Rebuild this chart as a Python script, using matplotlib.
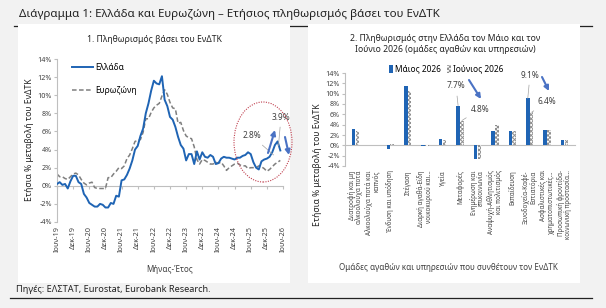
import matplotlib
matplotlib.use('Agg')
import matplotlib.pyplot as plt
from matplotlib.patches import Rectangle, Ellipse, Patch, FancyArrowPatch
from matplotlib.lines import Line2D

plt.rcParams['font.family'] = ['Noto Sans', 'DejaVu Sans']
plt.rcParams['hatch.linewidth'] = 0.7

# ---- data: left chart (monthly, Ιουν-19 .. Μάι-26)
greece = [0.2, 0.4, 0.1, 0.2, -0.3, 0.5, 1.1,
          1.1, 0.4, 0.2, -0.9, -1.3, -1.9, -2.1, -2.3, -2.3, -2.0, -2.1, -2.4,
          -2.4, -1.9, -2.0, -1.1, -1.2, 0.6, 0.7, 1.2, 1.9, 2.8, 4.0, 4.4,
          5.5, 6.3, 8.0, 9.1, 10.5, 11.6, 11.3, 11.2, 12.1, 9.5, 8.8, 7.6,
          7.3, 6.5, 5.4, 4.5, 4.1, 2.8, 3.5, 3.5, 2.4, 3.8, 2.9, 3.7,
          3.2, 3.1, 3.4, 3.2, 2.4, 2.5, 3.0, 3.2, 3.1, 3.1, 3.0, 2.9,
          3.1, 3.1, 3.3, 3.4, 3.7,
          3.5, 2.6, 2.0, 1.8, 2.7, 2.9, 3.0, 3.2, 3.7, 4.5, 4.9, 3.9]
eurozone = [1.3, 1.0, 1.0, 0.8, 0.7, 1.0, 1.3,
            1.4, 1.2, 0.7, 0.3, 0.1, 0.3, 0.4, -0.2, -0.3, -0.3, -0.3, -0.3,
            0.9, 0.9, 1.3, 1.6, 2.0, 1.9, 2.2, 3.0, 3.4, 4.1, 4.9, 5.0,
            5.1, 5.9, 7.4, 7.4, 8.1, 8.6, 8.9, 9.1, 9.9, 10.6, 10.1, 9.2,
            8.6, 8.5, 6.9, 7.0, 6.1, 5.5, 5.3, 5.2, 4.3, 2.9, 2.4, 2.9,
            2.8, 2.6, 2.4, 2.4, 2.6, 2.5, 2.6, 2.2, 1.7, 2.0, 2.2, 2.4,
            2.5, 2.3, 2.2, 2.2, 1.9,
            2.0, 2.0, 2.0, 2.2, 2.1, 1.9, 1.6, 1.8, 2.1, 2.4, 2.6, 2.8]
month_ticks = ['Ιουν-19', 'Δεκ-19', 'Ιουν-20', 'Δεκ-20', 'Ιουν-21', 'Δεκ-21', 'Ιουν-22',
               'Δεκ-22', 'Ιουν-23', 'Δεκ-23', 'Ιουν-24', 'Δεκ-24', 'Ιουν-25', 'Δεκ-25', 'Ιουν-26']

# ---- data: right chart
groups = ['Διατροφή και μη\nαλκοολούχα ποτά', 'Αλκοολούχα ποτά και\nκαπνός', 'Ένδυση και υπόδηση',
          'Στέγαση', 'Διαρκή αγαθά-Είδη\nνοικοκυριού και...', 'Υγεία', 'Μεταφορές',
          'Ενημέρωση και\nεπικοινωνία', 'Αναψυχή-Αθλητισμός\nκαι πολιτισμός', 'Εκπαίδευση',
          'Ξενοδοχεία-Καφέ-\nΕστιατόρια', 'Ασφαλιστικές και\nχρηματοπιστωτικές...',
          'Προσωπική φροντίδα-\nκοινωνική προστασία...']
may26 = [3.1, 0.1, -0.8, 11.5, -0.2, 1.2, 7.7, -2.7, 2.8, 2.8, 9.1, 3.0, 1.0]
jun26 = [2.7, 0.1, 0.2, 10.5, -0.1, 1.0, 4.8, -2.7, 3.9, 2.8, 6.4, 3.0, 1.1]

W, H = 606, 308
blue = '#1f64b4'
grey_ax = '#bfbfbf'
hatch_col = '#8f8f8f'


def rect(l, t, r, b):
    return [l / W, 1 - b / H, (r - l) / W, (b - t) / H]


def fp(x, y):
    return (x / W, 1 - y / H)


fig = plt.figure(figsize=(W / 100, H / 100), dpi=100)
fig.patch.set_facecolor('#f2f2f2')

# frame lines and white panels (behind the axes)
fig.add_artist(Line2D([14 / W, 592 / W], [1 - 26 / H] * 2, color='#222222', lw=0.9, zorder=-3))
fig.add_artist(Line2D([10 / W, 592 / W], [1 - 298 / H] * 2, color='#222222', lw=0.9, zorder=-3))
for l, r in [(18, 290), (308, 580)]:
    fig.add_artist(Rectangle(fp(l, 283), (r - l) / W, (283 - 24) / H, transform=fig.transFigure,
                             facecolor='white', edgecolor='none', zorder=-2))

fig.text(*fp(19, 15), 'Διάγραμμα 1: Ελλάδα και Ευρωζώνη – Ετήσιος πληθωρισμός βάσει του ΕνΔΤΚ',
         fontsize=8.3, va='center', ha='left', color='#222222')
fig.text(*fp(16, 290), 'Πηγές: ΕΛΣΤΑΤ, Eurostat, Eurobank Research.',
         fontsize=6.6, va='center', ha='left', color='#222222')

# ---------------- left chart
axL = fig.add_axes(rect(57, 59, 283, 222))
axL.patch.set_alpha(0)
x = list(range(len(greece)))
axL.plot(x, greece, color=blue, lw=1.4, label='Ελλάδα', zorder=3)
axL.plot(x, eurozone, color='#7f7f7f', lw=1.1, ls=(0, (3, 1.6)), label='Ευρωζώνη', zorder=2)
axL.set_xlim(0, 84)
axL.set_ylim(-4, 14)
axL.set_yticks(range(-4, 15, 2))
axL.set_yticklabels([f'{v}%' for v in range(-4, 15, 2)], fontsize=5.2, color='#404040')
axL.set_xticks(range(0, 85, 6))
axL.set_xticklabels(month_ticks, rotation=90, fontsize=5.3, color='#404040')
axL.tick_params(axis='x', length=0, pad=3)
axL.tick_params(axis='y', length=2, color=grey_ax, pad=1.5)
for s in ['top', 'right', 'bottom']:
    axL.spines[s].set_visible(False)
axL.spines['left'].set_color(grey_ax)
axL.spines['left'].set_linewidth(0.8)
zeroL = axL.secondary_xaxis(4 / 18)
zeroL.set_xticks(range(0, 85, 6))
zeroL.set_xticklabels([])
zeroL.tick_params(length=2, color=grey_ax)
zeroL.spines['bottom'].set_color(grey_ax)
zeroL.spines['bottom'].set_linewidth(0.8)

axL.legend(loc='upper left', bbox_to_anchor=fp(64, 55), bbox_transform=fig.transFigure,
           frameon=False, fontsize=6, handlelength=2.6, labelspacing=1.7, handletextpad=0.2)

fig.text(*fp(154, 40), '1. Πληθωρισμός βάσει του ΕνΔΤΚ', fontsize=6.2, ha='center', va='center',
         color='#222222')
fig.text(*fp(30, 140), 'Ετήσια % μεταβολή του ΕνΔΤΚ', fontsize=6.2, rotation=90,
         ha='center', va='center', color='#222222')
fig.text(*fp(170, 270), 'Μήνας-Έτος', fontsize=5.8, ha='center', va='center', color='#404040')

fig.add_artist(Ellipse(fp(263, 142), 58 / W, 80 / H, transform=fig.transFigure, fill=False,
                       edgecolor='#c0404f', lw=0.8, ls=(0, (1, 1.2))))
axL.annotate(f'{eurozone[-1]:.1f}%', xy=(80.5, 3.4), xytext=(252, H - 136),
             textcoords='figure pixels', fontsize=6, ha='center', va='center', color='#404040',
             arrowprops=dict(arrowstyle='-', color='#a0a0a0', lw=0.5, shrinkA=2, shrinkB=0))
axL.annotate(f'{greece[-1]:.1f}%', xy=(82.3, 4.4), xytext=(281, H - 117),
             textcoords='figure pixels', fontsize=6, ha='center', va='center', color='#404040',
             arrowprops=dict(arrowstyle='-', color='#a0a0a0', lw=0.5, shrinkA=2, shrinkB=0))
arrow_kw = dict(arrowstyle='-|>', color='#4a72c4', lw=1.5, mutation_scale=7, shrinkA=0, shrinkB=0)
fig.add_artist(FancyArrowPatch(fp(268, 153), fp(275, 130), transform=fig.transFigure, **arrow_kw))
fig.add_artist(FancyArrowPatch(fp(285, 137), fp(289, 155), transform=fig.transFigure, **arrow_kw))

# ---------------- right chart
axR = fig.add_axes(rect(345, 73, 575, 166))
axR.patch.set_alpha(0)
pos = list(range(len(groups)))
axR.bar([p - 0.11 for p in pos], may26, width=0.2, color=blue, label='Μάιος 2026', zorder=3)
axR.bar([p + 0.11 for p in pos], jun26, width=0.2, color='white', edgecolor=hatch_col,
        hatch='xxxxxxxx', lw=0, label='Ιούνιος 2026', zorder=3)
axR.set_xlim(-0.6, len(groups) - 0.4)
axR.set_ylim(-4, 14)
axR.set_yticks(range(-4, 15, 2))
axR.set_yticklabels([f'{v}%' for v in range(-4, 15, 2)], fontsize=5.2, color='#404040')
axR.set_xticks(pos)
axR.set_xticklabels(groups, rotation=90, fontsize=4.5, color='#404040', va='top')
for lbl in axR.get_xticklabels():
    lbl.set_multialignment('right')
    lbl.set_linespacing(0.9)
axR.tick_params(axis='x', length=0, pad=3)
axR.tick_params(axis='y', length=2, color=grey_ax, pad=1.5)
for s in ['top', 'right', 'bottom']:
    axR.spines[s].set_visible(False)
axR.spines['left'].set_color(grey_ax)
axR.spines['left'].set_linewidth(0.8)
zeroR = axR.secondary_xaxis(4 / 18)
zeroR.set_xticks([])
zeroR.spines['bottom'].set_color(grey_ax)
zeroR.spines['bottom'].set_linewidth(0.8)

handles = [Patch(facecolor=blue),
           Patch(facecolor='white', edgecolor=hatch_col, hatch='xxxxxxxx', lw=0)]
fig.legend(handles, ['Μάιος 2026', 'Ιούνιος 2026'], loc='center', bbox_to_anchor=fp(446, 69),
           ncol=2, frameon=False, fontsize=6, handlelength=0.5, handleheight=1.1,
           handletextpad=0.2, columnspacing=0.8)

fig.text(*fp(445, 44), '2. Πληθωρισμός στην Ελλάδα τον Μάιο και τον\nΙούνιο 2026 (ομάδες αγαθών και υπηρεσιών)',
         fontsize=6.2, ha='center', va='center', color='#222222', linespacing=1.25)
fig.text(*fp(318, 165), 'Ετήσια % μεταβολή του ΕνΔΤΚ', fontsize=6.2, rotation=90,
         ha='center', va='center', color='#222222')
fig.text(*fp(448, 268), 'Ομάδες αγαθών και υπηρεσιών που συνθέτουν τον ΕνΔΤΚ', fontsize=5.8,
         ha='center', va='center', color='#404040')

lead = dict(arrowstyle='-', color='#a0a0a0', lw=0.5, shrinkA=2, shrinkB=0)
for i, dx, series, txt_xy in [(6, -0.11, may26, (456, 86)), (6, 0.11, jun26, (480, 109)),
                              (10, -0.11, may26, (530, 75)), (10, 0.11, jun26, (547, 102))]:
    axR.annotate(f'{series[i]:.1f}%', xy=(i + dx, series[i]), xytext=(txt_xy[0], H - txt_xy[1]),
                 textcoords='figure pixels', fontsize=6, ha='center', va='center',
                 color='#404040', arrowprops=lead)
fig.add_artist(FancyArrowPatch(fp(469, 80), fp(481, 99), transform=fig.transFigure, **arrow_kw))
fig.add_artist(FancyArrowPatch(fp(542, 77), fp(549, 91), transform=fig.transFigure, **arrow_kw))

fig.savefig('out.png', dpi=100, facecolor=fig.get_facecolor())
